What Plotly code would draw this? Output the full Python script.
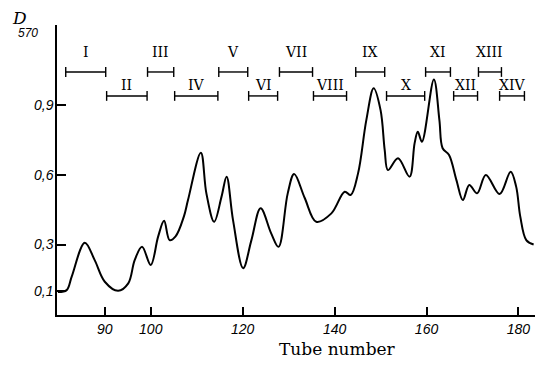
import plotly.graph_objects as go

# Elution profile (tube number vs. D570)
tube = [79.8, 81.7, 82.8, 85.65, 87.8, 90.0, 92.9, 95.1, 96.5, 98.1, 100.0, 101.6, 102.9, 104.1,
        105.4, 107.2, 108.1, 110.9, 112.1, 113.8, 115.4, 116.5, 117.9, 120.1, 121.9, 123.9,
        126.2, 127.8, 129.8, 131.2, 133.5, 136.0, 139.3, 142.2, 143.5, 145.1, 146.9, 148.5,
        150.0, 150.9, 151.6, 153.8, 156.3, 157.4, 158.1, 159.0, 161.6, 162.8, 163.5, 164.9,
        166.5, 167.9, 169.3, 171.0, 172.9, 175.9, 178.3, 179.5, 180.4, 181.7, 183.3]
d570 = [0.096, 0.104, 0.162, 0.308, 0.233, 0.140, 0.101, 0.133, 0.233, 0.290, 0.212, 0.334,
        0.402, 0.319, 0.335, 0.420, 0.491, 0.695, 0.520, 0.398, 0.506, 0.592, 0.405, 0.198,
        0.319, 0.456, 0.348, 0.290, 0.520, 0.603, 0.500, 0.398, 0.434, 0.527, 0.513, 0.606,
        0.835, 0.972, 0.878, 0.706, 0.620, 0.671, 0.592, 0.735, 0.785, 0.742, 1.010, 0.835,
        0.714, 0.685, 0.577, 0.491, 0.556, 0.520, 0.599, 0.517, 0.613, 0.549, 0.420, 0.319, 0.300]

# Pooled fractions (tube ranges)
frac_names = ["I", "II", "III", "IV", "V", "VI", "VII", "VIII", "IX", "X", "XI", "XII", "XIII", "XIV"]
frac_start = [81.5, 90.4, 99.3, 105.2, 114.8, 121.3, 128.0, 135.4, 144.6, 151.3, 159.8, 165.9, 171.3, 175.9]
frac_end = [90.2, 99.2, 105.0, 114.6, 121.1, 127.6, 135.2, 142.6, 150.9, 159.6, 165.2, 171.1, 176.3, 181.3]

x_ticks = [90, 100, 120, 140, 160, 180]
y_ticks = [0.1, 0.3, 0.6, 0.9]
y_ticktext = ["0,1", "0,3", "0,6", "0,9"]

# style levels for fraction bars
BAR_UP, BAR_LOW = 1.042, 0.939
LAB_UP, LAB_LOW = 1.128, 0.986

fig = go.Figure()
fig.add_trace(go.Scatter(x=tube, y=d570, mode="lines",
                         line=dict(color="black", width=2.0, shape="spline", smoothing=1.0),
                         hoverinfo="skip", showlegend=False))

annotations = []
for i, (name, s, e) in enumerate(zip(frac_names, frac_start, frac_end)):
    yb = BAR_UP if i % 2 == 0 else BAR_LOW
    yl = LAB_UP if i % 2 == 0 else LAB_LOW
    fig.add_trace(go.Scatter(x=[s, e], y=[yb, yb], mode="lines+markers",
                             line=dict(color="black", width=1.4),
                             marker=dict(symbol="line-ns-open", size=7,
                                         line=dict(color="black", width=1.4)),
                             hoverinfo="skip", showlegend=False))
    annotations.append(dict(x=(s + e) / 2, y=yl, xref="x", yref="y", text=name,
                            showarrow=False, xanchor="center", yanchor="middle",
                            font=dict(family="DejaVu Serif", size=14, color="black")))


def px_to_paper(px, py):
    # pixel -> paper coords (plot area spans 57..535 x 25..315)
    return (px - 57) / 478, (315 - py) / 290


for txt, (px, py), fnt in [
    ("D", (19, 18), dict(family="DejaVu Serif", size=17, color="black", style="italic")),
    ("570", (28, 33), dict(family="Liberation Sans", size=12, color="black", style="italic")),
    ("Tube number", (337, 349), dict(family="DejaVu Serif", size=17, color="black")),
]:
    ax_, ay_ = px_to_paper(px, py)
    annotations.append(dict(x=ax_, y=ay_, xref="paper", yref="paper", text=txt,
                            showarrow=False, xanchor="center", yanchor="middle", font=fnt))

fig.update_layout(
    width=535, height=369,
    margin=dict(l=57, r=0, t=25, b=54),
    paper_bgcolor="white", plot_bgcolor="white",
    annotations=annotations,
    xaxis=dict(range=[79.6, 183.6], tickvals=x_ticks, ticks="inside", ticklen=8,
               tickcolor="black", tickwidth=1.5, showline=True, linecolor="black", linewidth=1.5,
               showgrid=False, zeroline=False,
               tickfont=dict(family="Liberation Sans", size=14, color="black", style="italic")),
    yaxis=dict(range=[-0.003, 1.244], tickvals=y_ticks, ticktext=y_ticktext, ticks="inside",
               ticklen=9, tickcolor="black", tickwidth=1.5, showline=True, linecolor="black",
               linewidth=1.5, showgrid=False, zeroline=False, ticklabelstandoff=-1,
               tickfont=dict(family="Liberation Sans", size=14, color="black", style="italic")),
)

fig.write_html("out.html", config={"displayModeBar": False},
               post_script="document.body.style.margin='0';document.body.style.overflow='hidden';")
